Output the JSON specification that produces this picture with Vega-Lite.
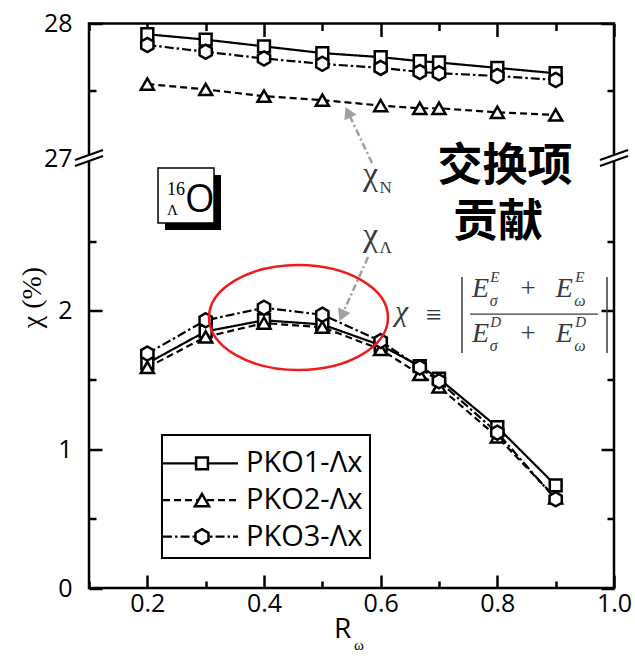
{
  "$schema": "https://vega.github.io/schema/vega-lite/v6.json",
  "width": 525,
  "height": 564.5,
  "autosize": {"type": "none"},
  "padding": {"left": 89, "top": 23.5, "right": 21, "bottom": 72},
  "background": "white",
  "config": {
    "view": {"stroke": "black", "strokeWidth": 2.5},
    "axis": {"domain": false, "grid": false, "tickColor": "black", "tickWidth": 2.5, "labelFont": "Open Sans", "labelFontSize": 25, "labelColor": "black", "labelOverlap": false, "labelFlush": false, "labelBound": false}
  },
  "datasets": {
    "chi": [
      {"series": "PKO1-Λx", "part": "upper", "R": 0.2, "chi": 27.92},
      {"series": "PKO1-Λx", "part": "upper", "R": 0.3, "chi": 27.88},
      {"series": "PKO1-Λx", "part": "upper", "R": 0.4, "chi": 27.83},
      {"series": "PKO1-Λx", "part": "upper", "R": 0.5, "chi": 27.78},
      {"series": "PKO1-Λx", "part": "upper", "R": 0.6, "chi": 27.75},
      {"series": "PKO1-Λx", "part": "upper", "R": 0.667, "chi": 27.72},
      {"series": "PKO1-Λx", "part": "upper", "R": 0.7, "chi": 27.71},
      {"series": "PKO1-Λx", "part": "upper", "R": 0.8, "chi": 27.67},
      {"series": "PKO1-Λx", "part": "upper", "R": 0.9, "chi": 27.63},
      {"series": "PKO1-Λx", "part": "lower", "R": 0.2, "chi": 1.62},
      {"series": "PKO1-Λx", "part": "lower", "R": 0.3, "chi": 1.85},
      {"series": "PKO1-Λx", "part": "lower", "R": 0.4, "chi": 1.93},
      {"series": "PKO1-Λx", "part": "lower", "R": 0.5, "chi": 1.90},
      {"series": "PKO1-Λx", "part": "lower", "R": 0.6, "chi": 1.75},
      {"series": "PKO1-Λx", "part": "lower", "R": 0.667, "chi": 1.60},
      {"series": "PKO1-Λx", "part": "lower", "R": 0.7, "chi": 1.51},
      {"series": "PKO1-Λx", "part": "lower", "R": 0.8, "chi": 1.16},
      {"series": "PKO1-Λx", "part": "lower", "R": 0.9, "chi": 0.74},
      {"series": "PKO2-Λx", "part": "upper", "R": 0.2, "chi": 27.55},
      {"series": "PKO2-Λx", "part": "upper", "R": 0.3, "chi": 27.51},
      {"series": "PKO2-Λx", "part": "upper", "R": 0.4, "chi": 27.46},
      {"series": "PKO2-Λx", "part": "upper", "R": 0.5, "chi": 27.43},
      {"series": "PKO2-Λx", "part": "upper", "R": 0.6, "chi": 27.39},
      {"series": "PKO2-Λx", "part": "upper", "R": 0.667, "chi": 27.37},
      {"series": "PKO2-Λx", "part": "upper", "R": 0.7, "chi": 27.37},
      {"series": "PKO2-Λx", "part": "upper", "R": 0.8, "chi": 27.34},
      {"series": "PKO2-Λx", "part": "upper", "R": 0.9, "chi": 27.32},
      {"series": "PKO2-Λx", "part": "lower", "R": 0.2, "chi": 1.59},
      {"series": "PKO2-Λx", "part": "lower", "R": 0.3, "chi": 1.81},
      {"series": "PKO2-Λx", "part": "lower", "R": 0.4, "chi": 1.91},
      {"series": "PKO2-Λx", "part": "lower", "R": 0.5, "chi": 1.88},
      {"series": "PKO2-Λx", "part": "lower", "R": 0.6, "chi": 1.72},
      {"series": "PKO2-Λx", "part": "lower", "R": 0.667, "chi": 1.54},
      {"series": "PKO2-Λx", "part": "lower", "R": 0.7, "chi": 1.45},
      {"series": "PKO2-Λx", "part": "lower", "R": 0.8, "chi": 1.09},
      {"series": "PKO2-Λx", "part": "lower", "R": 0.9, "chi": 0.65},
      {"series": "PKO3-Λx", "part": "upper", "R": 0.2, "chi": 27.84},
      {"series": "PKO3-Λx", "part": "upper", "R": 0.3, "chi": 27.79},
      {"series": "PKO3-Λx", "part": "upper", "R": 0.4, "chi": 27.74},
      {"series": "PKO3-Λx", "part": "upper", "R": 0.5, "chi": 27.70},
      {"series": "PKO3-Λx", "part": "upper", "R": 0.6, "chi": 27.67},
      {"series": "PKO3-Λx", "part": "upper", "R": 0.667, "chi": 27.64},
      {"series": "PKO3-Λx", "part": "upper", "R": 0.7, "chi": 27.63},
      {"series": "PKO3-Λx", "part": "upper", "R": 0.8, "chi": 27.61},
      {"series": "PKO3-Λx", "part": "upper", "R": 0.9, "chi": 27.58},
      {"series": "PKO3-Λx", "part": "lower", "R": 0.2, "chi": 1.69},
      {"series": "PKO3-Λx", "part": "lower", "R": 0.3, "chi": 1.93},
      {"series": "PKO3-Λx", "part": "lower", "R": 0.4, "chi": 2.02},
      {"series": "PKO3-Λx", "part": "lower", "R": 0.5, "chi": 1.97},
      {"series": "PKO3-Λx", "part": "lower", "R": 0.6, "chi": 1.78},
      {"series": "PKO3-Λx", "part": "lower", "R": 0.667, "chi": 1.59},
      {"series": "PKO3-Λx", "part": "lower", "R": 0.7, "chi": 1.49},
      {"series": "PKO3-Λx", "part": "lower", "R": 0.8, "chi": 1.12},
      {"series": "PKO3-Λx", "part": "lower", "R": 0.9, "chi": 0.64}
    ]
  },
  "layer": [
    {
      "data": {"name": "chi"},
      "mark": {"type": "line", "color": "black", "strokeWidth": 2.2},
      "encoding": {
        "x": {"field": "R", "type": "quantitative", "scale": {"domain": [0.1, 1.0], "nice": false, "zero": false},
          "axis": {"orient": "bottom", "values": [0.1, 0.2, 0.3, 0.4, 0.5, 0.6, 0.7, 0.8, 0.9, 1.0],
            "tickSize": {"condition": {"test": "round(datum.value*10) % 2 === 0", "value": -13}, "value": -7},
            "labelExpr": "round(datum.value*10) % 2 === 0 ? format(datum.value, '.1f') : ''",
            "labelPadding": 16, "title": null}},
        "y": {"field": "chi", "type": "quantitative", "scale": {"domain": [0, 3.1, 27, 28], "range": [564.5, 134.5, 134.5, 0], "nice": false, "zero": false},
          "axis": {"orient": "left", "values": [0, 0.5, 1, 1.5, 2, 2.5, 27, 27.5, 28],
            "tickSize": {"condition": {"test": "datum.value % 1 === 0", "value": -13}, "value": -7},
            "tickOpacity": {"condition": {"test": "datum.value === 27", "value": 0}, "value": 1},
            "labelExpr": "datum.value % 1 === 0 ? datum.label : ''",
            "labelPadding": 30,
            "title": "χ (%)", "titleFont": "Liberation Serif", "titleFontSize": 28, "titleFontWeight": "normal", "titleColor": "black",
            "titleX": -57, "titleY": 273.5, "titleBaseline": "middle", "titleAngle": -90}},
        "strokeDash": {"field": "series", "type": "nominal", "scale": {"domain": ["PKO1-Λx", "PKO2-Λx", "PKO3-Λx"], "range": [[1, 0], [7, 4], [9, 3, 2.5, 3]]}, "legend": null},
        "detail": {"field": "part"}
      }
    },
    {
      "data": {"name": "chi"},
      "mark": {"type": "point", "filled": true, "fill": "white", "stroke": "black", "strokeWidth": 2.5, "opacity": 1},
      "encoding": {
        "x": {"field": "R", "type": "quantitative",
          "axis": {"orient": "top", "values": [0.1, 0.2, 0.3, 0.4, 0.5, 0.6, 0.7, 0.8, 0.9, 1.0],
            "tickSize": {"condition": {"test": "round(datum.value*10) % 2 === 0", "value": -13}, "value": -7},
            "labels": false, "title": null}},
        "y": {"field": "chi", "type": "quantitative",
          "axis": {"orient": "right", "values": [0, 0.5, 1, 1.5, 2, 2.5, 27, 27.5, 28],
            "tickSize": {"condition": {"test": "datum.value % 1 === 0", "value": -13}, "value": -7},
            "tickOpacity": {"condition": {"test": "datum.value === 27", "value": 0}, "value": 1},
            "labels": false, "title": null}},
        "shape": {"field": "series", "type": "nominal", "scale": {"domain": ["PKO1-Λx", "PKO2-Λx", "PKO3-Λx"], "range": ["square", "triangle-up", "M0,-1L0.866,-0.5L0.866,0.5L0,1L-0.866,0.5L-0.866,-0.5Z"]}, "legend": null},
        "size": {"field": "series", "type": "ordinal", "scale": {"domain": ["PKO1-Λx", "PKO2-Λx", "PKO3-Λx"], "range": [140, 200, 225]}, "legend": null}
      }
    },
    {
      "data": {"values": [{}]},
      "mark": {"type": "point", "shape": "M-1,0C-1,-0.3242,-0.5523,-0.587,0,-0.587C0.5523,-0.587,1,-0.3242,1,0C1,0.3242,0.5523,0.587,0,0.587C-0.5523,0.587,-1,0.3242,-1,0Z", "size": 32041, "filled": false, "stroke": "#ee1c1c", "strokeWidth": 2.5, "opacity": 1},
      "encoding": {"x": {"datum": 0.4591, "axis": null}, "y": {"datum": 1.95, "axis": null}}
    },
    {
      "data": {"values": [{}]},
      "mark": {"type": "rule", "color": "#a0a0a0", "strokeWidth": 2.5, "strokeDash": [7, 3, 2, 3]},
      "encoding": {"x": {"datum": 0.5852, "axis": null}, "y": {"datum": 3.064, "axis": null}, "x2": {"datum": 0.544}, "y2": {"datum": 27.34}}
    },
    {
      "data": {"values": [{}]},
      "mark": {"type": "point", "shape": "triangle-up", "size": 180, "filled": true, "color": "#a0a0a0", "angle": 335, "opacity": 1},
      "encoding": {"x": {"datum": 0.544, "axis": null}, "y": {"datum": 27.34, "axis": null}}
    },
    {
      "data": {"values": [{}]},
      "mark": {"type": "rule", "color": "#a0a0a0", "strokeWidth": 2.5, "strokeDash": [7, 3, 2, 3]},
      "encoding": {"x": {"datum": 0.5783, "axis": null}, "y": {"datum": 2.386, "axis": null}, "x2": {"datum": 0.5334}, "y2": {"datum": 1.964}}
    },
    {
      "data": {"values": [{}]},
      "mark": {"type": "point", "shape": "triangle-up", "size": 180, "filled": true, "color": "#a0a0a0", "angle": 204, "opacity": 1},
      "encoding": {"x": {"datum": 0.5334, "axis": null}, "y": {"datum": 1.964, "axis": null}}
    },
    {
      "data": {"values": [{}]},
      "mark": {"type": "text", "text": "χ", "font": "Liberation Serif", "fontSize": 34, "align": "left", "baseline": "alphabetic", "color": "#3a3a3a"},
      "encoding": {"x": {"datum": 0.5697, "axis": null}, "y": {"datum": 2.905, "axis": null}}
    },
    {
      "data": {"values": [{}]},
      "mark": {"type": "text", "text": "N", "font": "Liberation Serif", "fontSize": 17, "align": "left", "baseline": "alphabetic", "color": "#3a3a3a"},
      "encoding": {"x": {"datum": 0.598, "axis": null}, "y": {"datum": 2.848, "axis": null}}
    },
    {
      "data": {"values": [{}]},
      "mark": {"type": "text", "text": "χ", "font": "Liberation Serif", "fontSize": 34, "align": "left", "baseline": "alphabetic", "color": "#3a3a3a"},
      "encoding": {"x": {"datum": 0.5697, "axis": null}, "y": {"datum": 2.466, "axis": null}}
    },
    {
      "data": {"values": [{}]},
      "mark": {"type": "text", "text": "Λ", "font": "Liberation Serif", "fontSize": 17, "align": "left", "baseline": "alphabetic", "color": "#3a3a3a"},
      "encoding": {"x": {"datum": 0.598, "axis": null}, "y": {"datum": 2.415, "axis": null}}
    },
    {
      "data": {"values": [{}]},
      "mark": {"type": "text", "text": "交换项", "font": "Noto Sans CJK SC", "fontSize": 45, "fontWeight": "bold", "align": "center", "baseline": "middle", "color": "black"},
      "encoding": {"x": {"datum": 0.8132, "axis": null}, "y": {"datum": 3.035, "axis": null}}
    },
    {
      "data": {"values": [{}]},
      "mark": {"type": "text", "text": "贡献", "font": "Noto Sans CJK SC", "fontSize": 45, "fontWeight": "bold", "align": "center", "baseline": "middle", "color": "black"},
      "encoding": {"x": {"datum": 0.8012, "axis": null}, "y": {"datum": 2.63, "axis": null}}
    },
    {
      "data": {"values": [{}]},
      "mark": {"type": "rect", "fill": "black"},
      "encoding": {"x": {"datum": 0.2303, "axis": null}, "x2": {"datum": 0.3263}, "y": {"datum": 2.977, "axis": null}, "y2": {"datum": 2.581}}
    },
    {
      "data": {"values": [{}]},
      "mark": {"type": "rect", "fill": "white", "stroke": "black", "strokeWidth": 1.5},
      "encoding": {"x": {"datum": 0.2183, "axis": null}, "x2": {"datum": 0.3143}, "y": {"datum": 3.028, "axis": null}, "y2": {"datum": 2.631}}
    },
    {
      "data": {"values": [{}]},
      "mark": {"type": "text", "text": "16", "font": "Liberation Serif", "fontSize": 18, "align": "left", "baseline": "alphabetic", "color": "black"},
      "encoding": {"x": {"datum": 0.2337, "axis": null}, "y": {"datum": 2.833, "axis": null}}
    },
    {
      "data": {"values": [{}]},
      "mark": {"type": "text", "text": "Λ", "font": "Liberation Serif", "fontSize": 15, "align": "left", "baseline": "alphabetic", "color": "black"},
      "encoding": {"x": {"datum": 0.2337, "axis": null}, "y": {"datum": 2.689, "axis": null}}
    },
    {
      "data": {"values": [{}]},
      "mark": {"type": "text", "text": "O", "font": "Open Sans", "fontSize": 38, "align": "left", "baseline": "alphabetic", "color": "black"},
      "encoding": {"x": {"datum": 0.2646, "axis": null}, "y": {"datum": 2.711, "axis": null}}
    },
    {
      "data": {"values": [{}]},
      "mark": {"type": "text", "text": "χ", "font": "Liberation Serif", "fontSize": 30, "fontStyle": "italic", "align": "left", "baseline": "alphabetic", "color": "#3a3a3a"},
      "encoding": {"x": {"datum": 0.6246, "axis": null}, "y": {"datum": 1.925, "axis": null}}
    },
    {
      "data": {"values": [{}]},
      "mark": {"type": "text", "text": "≡", "font": "Liberation Serif", "fontSize": 28, "align": "center", "baseline": "middle", "color": "#3a3a3a"},
      "encoding": {"x": {"datum": 0.6914, "axis": null}, "y": {"datum": 1.961, "axis": null}}
    },
    {
      "data": {"values": [{}]},
      "mark": {"type": "rule", "color": "#3a3a3a", "strokeWidth": 1.5},
      "encoding": {"x": {"datum": 0.7394, "axis": null}, "y": {"datum": 2.242, "axis": null}, "y2": {"datum": 1.694}}
    },
    {
      "data": {"values": [{}]},
      "mark": {"type": "rule", "color": "#3a3a3a", "strokeWidth": 1.5},
      "encoding": {"x": {"datum": 0.988, "axis": null}, "y": {"datum": 2.242, "axis": null}, "y2": {"datum": 1.694}}
    },
    {
      "data": {"values": [{}]},
      "mark": {"type": "rule", "color": "#3a3a3a", "strokeWidth": 1.2},
      "encoding": {"x": {"datum": 0.7532, "axis": null}, "x2": {"datum": 0.9726}, "y": {"datum": 1.975, "axis": null}}
    },
    {
      "data": {"values": [{}]},
      "mark": {"type": "text", "text": "E", "font": "Liberation Serif", "fontSize": 28, "fontStyle": "italic", "align": "left", "baseline": "alphabetic", "color": "#3a3a3a"},
      "encoding": {"x": {"datum": 0.7566, "axis": null}, "y": {"datum": 2.098, "axis": null}}
    },
    {
      "data": {"values": [{}]},
      "mark": {"type": "text", "text": "E", "font": "Liberation Serif", "fontSize": 15, "fontStyle": "italic", "align": "left", "baseline": "alphabetic", "color": "#3a3a3a"},
      "encoding": {"x": {"datum": 0.788, "axis": null}, "y": {"datum": 2.205, "axis": null}}
    },
    {
      "data": {"values": [{}]},
      "mark": {"type": "text", "text": "σ", "font": "Liberation Serif", "fontSize": 16, "fontStyle": "italic", "align": "left", "baseline": "alphabetic", "color": "#3a3a3a"},
      "encoding": {"x": {"datum": 0.787, "axis": null}, "y": {"datum": 2.035, "axis": null}}
    },
    {
      "data": {"values": [{}]},
      "mark": {"type": "text", "text": "+", "font": "Liberation Serif", "fontSize": 27, "align": "center", "baseline": "alphabetic", "color": "#3a3a3a"},
      "encoding": {"x": {"datum": 0.8526, "axis": null}, "y": {"datum": 2.098, "axis": null}}
    },
    {
      "data": {"values": [{}]},
      "mark": {"type": "text", "text": "E", "font": "Liberation Serif", "fontSize": 28, "fontStyle": "italic", "align": "left", "baseline": "alphabetic", "color": "#3a3a3a"},
      "encoding": {"x": {"datum": 0.9, "axis": null}, "y": {"datum": 2.098, "axis": null}}
    },
    {
      "data": {"values": [{}]},
      "mark": {"type": "text", "text": "E", "font": "Liberation Serif", "fontSize": 15, "fontStyle": "italic", "align": "left", "baseline": "alphabetic", "color": "#3a3a3a"},
      "encoding": {"x": {"datum": 0.9335, "axis": null}, "y": {"datum": 2.205, "axis": null}}
    },
    {
      "data": {"values": [{}]},
      "mark": {"type": "text", "text": "ω", "font": "Liberation Serif", "fontSize": 16, "fontStyle": "italic", "align": "left", "baseline": "alphabetic", "color": "#3a3a3a"},
      "encoding": {"x": {"datum": 0.932, "axis": null}, "y": {"datum": 2.035, "axis": null}}
    },
    {
      "data": {"values": [{}]},
      "mark": {"type": "text", "text": "E", "font": "Liberation Serif", "fontSize": 28, "fontStyle": "italic", "align": "left", "baseline": "alphabetic", "color": "#3a3a3a"},
      "encoding": {"x": {"datum": 0.7566, "axis": null}, "y": {"datum": 1.774, "axis": null}}
    },
    {
      "data": {"values": [{}]},
      "mark": {"type": "text", "text": "D", "font": "Liberation Serif", "fontSize": 15, "fontStyle": "italic", "align": "left", "baseline": "alphabetic", "color": "#3a3a3a"},
      "encoding": {"x": {"datum": 0.788, "axis": null}, "y": {"datum": 1.881, "axis": null}}
    },
    {
      "data": {"values": [{}]},
      "mark": {"type": "text", "text": "σ", "font": "Liberation Serif", "fontSize": 16, "fontStyle": "italic", "align": "left", "baseline": "alphabetic", "color": "#3a3a3a"},
      "encoding": {"x": {"datum": 0.787, "axis": null}, "y": {"datum": 1.711, "axis": null}}
    },
    {
      "data": {"values": [{}]},
      "mark": {"type": "text", "text": "+", "font": "Liberation Serif", "fontSize": 27, "align": "center", "baseline": "alphabetic", "color": "#3a3a3a"},
      "encoding": {"x": {"datum": 0.8526, "axis": null}, "y": {"datum": 1.774, "axis": null}}
    },
    {
      "data": {"values": [{}]},
      "mark": {"type": "text", "text": "E", "font": "Liberation Serif", "fontSize": 28, "fontStyle": "italic", "align": "left", "baseline": "alphabetic", "color": "#3a3a3a"},
      "encoding": {"x": {"datum": 0.9, "axis": null}, "y": {"datum": 1.774, "axis": null}}
    },
    {
      "data": {"values": [{}]},
      "mark": {"type": "text", "text": "D", "font": "Liberation Serif", "fontSize": 15, "fontStyle": "italic", "align": "left", "baseline": "alphabetic", "color": "#3a3a3a"},
      "encoding": {"x": {"datum": 0.9335, "axis": null}, "y": {"datum": 1.881, "axis": null}}
    },
    {
      "data": {"values": [{}]},
      "mark": {"type": "text", "text": "ω", "font": "Liberation Serif", "fontSize": 16, "fontStyle": "italic", "align": "left", "baseline": "alphabetic", "color": "#3a3a3a"},
      "encoding": {"x": {"datum": 0.932, "axis": null}, "y": {"datum": 1.711, "axis": null}}
    },
    {
      "data": {"values": [{}]},
      "mark": {"type": "rect", "fill": "white", "stroke": "black", "strokeWidth": 2},
      "encoding": {"x": {"datum": 0.2251, "axis": null}, "x2": {"datum": 0.5817}, "y": {"datum": 1.103, "axis": null}, "y2": {"datum": 0.216}}
    },
    {
      "data": {"values": [{}]},
      "mark": {"type": "rule", "color": "black", "strokeWidth": 2.2},
      "encoding": {"x": {"datum": 0.2269, "axis": null}, "x2": {"datum": 0.3554}, "y": {"datum": 0.899, "axis": null}}
    },
    {
      "data": {"values": [{}]},
      "mark": {"type": "rule", "color": "black", "strokeWidth": 2.2, "strokeDash": [7, 4]},
      "encoding": {"x": {"datum": 0.2269, "axis": null}, "x2": {"datum": 0.3554}, "y": {"datum": 0.634, "axis": null}}
    },
    {
      "data": {"values": [{}]},
      "mark": {"type": "rule", "color": "black", "strokeWidth": 2.2, "strokeDash": [9, 3, 2.5, 3]},
      "encoding": {"x": {"datum": 0.2269, "axis": null}, "x2": {"datum": 0.3554}, "y": {"datum": 0.37, "axis": null}}
    },
    {
      "data": {"values": [{}]},
      "mark": {"type": "point", "shape": "square", "size": 140, "filled": true, "fill": "white", "stroke": "black", "strokeWidth": 2.5, "opacity": 1},
      "encoding": {"x": {"datum": 0.2937, "axis": null}, "y": {"datum": 0.899, "axis": null}}
    },
    {
      "data": {"values": [{}]},
      "mark": {"type": "point", "shape": "triangle-up", "size": 200, "filled": true, "fill": "white", "stroke": "black", "strokeWidth": 2.5, "opacity": 1},
      "encoding": {"x": {"datum": 0.2937, "axis": null}, "y": {"datum": 0.634, "axis": null}}
    },
    {
      "data": {"values": [{}]},
      "mark": {"type": "point", "shape": "M0,-1L0.866,-0.5L0.866,0.5L0,1L-0.866,0.5L-0.866,-0.5Z", "size": 225, "filled": true, "fill": "white", "stroke": "black", "strokeWidth": 2.5, "opacity": 1},
      "encoding": {"x": {"datum": 0.2937, "axis": null}, "y": {"datum": 0.37, "axis": null}}
    },
    {
      "data": {"values": [{}]},
      "mark": {"type": "text", "text": "PKO1-Λx", "font": "Open Sans", "fontSize": 29, "align": "left", "baseline": "middle", "color": "black"},
      "encoding": {"x": {"datum": 0.3691, "axis": null}, "y": {"datum": 0.899, "axis": null}}
    },
    {
      "data": {"values": [{}]},
      "mark": {"type": "text", "text": "PKO2-Λx", "font": "Open Sans", "fontSize": 29, "align": "left", "baseline": "middle", "color": "black"},
      "encoding": {"x": {"datum": 0.3691, "axis": null}, "y": {"datum": 0.634, "axis": null}}
    },
    {
      "data": {"values": [{}]},
      "mark": {"type": "text", "text": "PKO3-Λx", "font": "Open Sans", "fontSize": 29, "align": "left", "baseline": "middle", "color": "black"},
      "encoding": {"x": {"datum": 0.3691, "axis": null}, "y": {"datum": 0.37, "axis": null}}
    },
    {
      "data": {"values": [{}]},
      "mark": {"type": "text", "text": "R", "font": "Open Sans", "fontSize": 28, "align": "left", "baseline": "alphabetic", "color": "black"},
      "encoding": {"x": {"datum": 0.52, "axis": null}, "y": {"datum": -0.36, "axis": null}}
    },
    {
      "data": {"values": [{}]},
      "mark": {"type": "text", "text": "ω", "font": "Liberation Serif", "fontSize": 15, "align": "left", "baseline": "alphabetic", "color": "black"},
      "encoding": {"x": {"datum": 0.5543, "axis": null}, "y": {"datum": -0.445, "axis": null}}
    },
    {
      "data": {"values": [{}]},
      "mark": {"type": "point", "shape": "M-0.6,0L0.6,-0.428L0.6,0.002L-0.6,0.428Z", "size": 784, "filled": true, "fill": "white", "strokeWidth": 0, "opacity": 1},
      "encoding": {"x": {"datum": 0.1, "axis": null}, "y": {"datum": 27, "axis": null}}
    },
    {
      "data": {"values": [{}]},
      "mark": {"type": "point", "shape": "M-1,0.57L1,-0.14M-1,0.14L1,-0.57", "size": 784, "filled": false, "stroke": "black", "strokeWidth": 2.2, "opacity": 1},
      "encoding": {"x": {"datum": 0.1, "axis": null}, "y": {"datum": 27, "axis": null}}
    },
    {
      "data": {"values": [{}]},
      "mark": {"type": "point", "shape": "M-0.6,0L0.6,-0.428L0.6,0.002L-0.6,0.428Z", "size": 784, "filled": true, "fill": "white", "strokeWidth": 0, "opacity": 1},
      "encoding": {"x": {"datum": 1.0, "axis": null}, "y": {"datum": 27, "axis": null}}
    },
    {
      "data": {"values": [{}]},
      "mark": {"type": "point", "shape": "M-1,0.57L1,-0.14M-1,0.14L1,-0.57", "size": 784, "filled": false, "stroke": "black", "strokeWidth": 2.2, "opacity": 1},
      "encoding": {"x": {"datum": 1.0, "axis": null}, "y": {"datum": 27, "axis": null}}
    }
  ],
  "resolve": {"axis": {"x": "independent", "y": "independent"}}
}
